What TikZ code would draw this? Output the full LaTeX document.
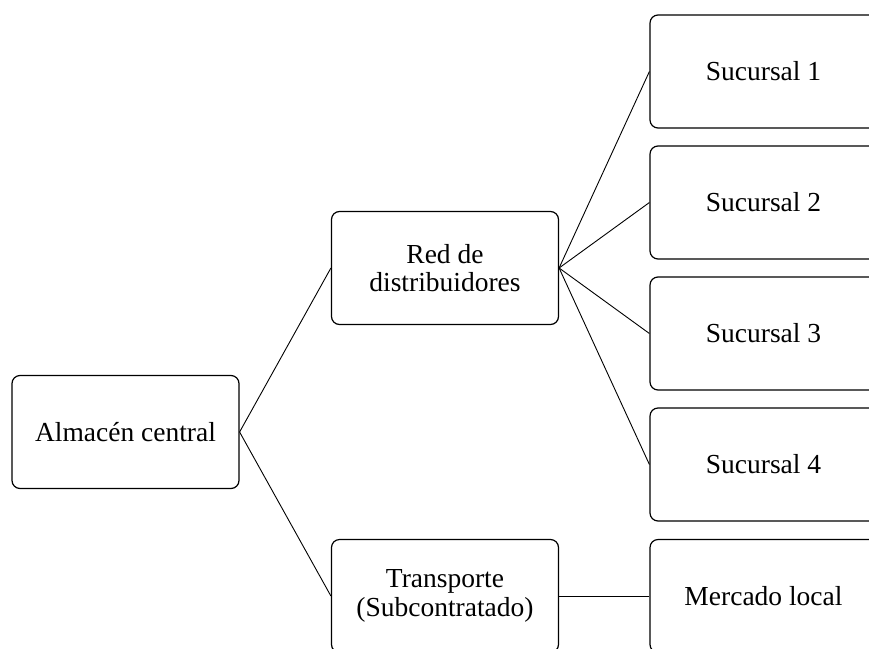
\documentclass[tikz,border=0pt]{standalone}
\usepackage{fontspec}
\setmainfont{Liberation Serif}
\begin{document}
\begin{tikzpicture}[x=1pt,y=-1pt,
  box/.style={draw, rounded corners=8pt, line width=1.2pt,
    minimum width=227pt, minimum height=113pt, align=center, inner sep=0pt,
    font=\fontsize{27.5}{28.5}\selectfont},
  link/.style={line width=0.9pt}]
\useasboundingbox (0,0) rectangle (869,648);
\clip (0,0) rectangle (869,648);

% first level
\node[box] (alm) at (125.5,432) {Almacén central};

% second level
\node[box] (red) at (445,268) {Red de\\distribuidores};
\node[box] (tra) at (445,596) {Transporte\\(Subcontratado)};

% third level
\node[box] (s1) at (763.5,71.5) {Sucursal 1};
\node[box] (s2) at (763.5,202.5) {Sucursal 2};
\node[box] (s3) at (763.5,333.5) {Sucursal 3};
\node[box] (s4) at (763.5,464.5) {Sucursal 4};
\node[box] (mer) at (763.5,596) {Mercado local};

% connectors
\draw[link] (alm.east) -- (red.west);
\draw[link] (alm.east) -- (tra.west);
\foreach \s in {s1,s2,s3,s4}
  \draw[link] (red.east) -- (\s.west);
\draw[link] (tra.east) -- (mer.west);
\end{tikzpicture}
\end{document}
